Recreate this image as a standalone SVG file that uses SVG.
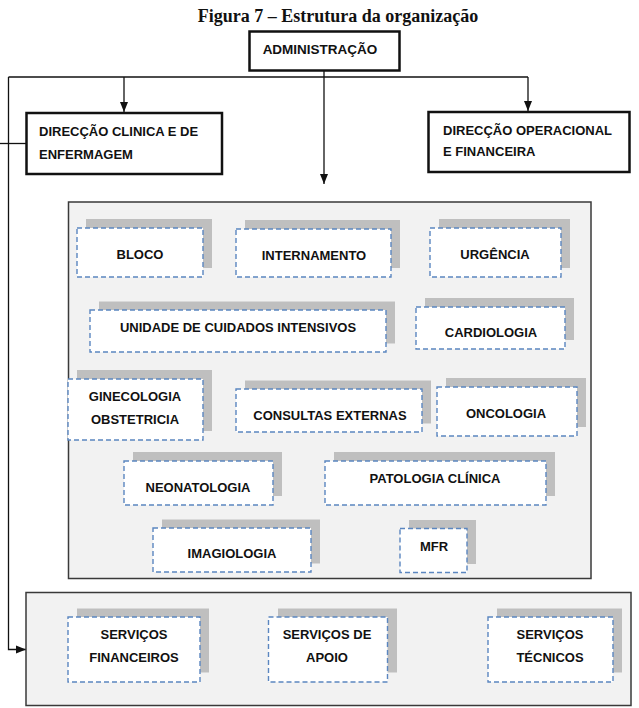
<svg xmlns="http://www.w3.org/2000/svg" width="639" height="708" viewBox="0 0 639 708">
<style>
.t{font-family:"Liberation Sans",Arial,sans-serif;font-weight:bold;font-size:13px;fill:#111;}
.c{text-anchor:middle;}
.box{fill:#fff;stroke:#111;stroke-width:2.5;}
.cont{fill:#f2f2f2;stroke:#3a3a3a;stroke-width:1.5;}
.sh{fill:#bfbfbf;}
.dn{fill:#fff;stroke:#5b86c0;stroke-width:1.4;stroke-dasharray:5,3;}
.ln{fill:none;stroke:#111;stroke-width:1.3;}
</style>
<defs>
<marker id="ah" markerUnits="userSpaceOnUse" markerWidth="10" markerHeight="10" viewBox="0 0 10 10" refX="10" refY="5" orient="auto">
<path d="M0,1 L10,5 L0,9 Z" fill="#111"/>
</marker>
</defs>
<rect width="639" height="708" fill="#fff"/>
<text x="338" y="22" style="font-family:'Liberation Serif','Times New Roman',serif;font-weight:bold;font-size:18px;text-anchor:middle;fill:#111">Figura 7 – Estrutura da organização</text>

<g id="connectors">
<path class="ln" d="M8.5,77 H528"/>
<path class="ln" d="M324,71 V184" marker-end="url(#ah)"/>
<path class="ln" d="M124,77 V112" marker-end="url(#ah)"/>
<path class="ln" d="M528,77 V111" marker-end="url(#ah)"/>
<path class="ln" d="M8.5,77 V649.5 H26" marker-end="url(#ah)"/>
<path class="ln" d="M0,143.5 H26"/>
</g>

<g id="administracao">
<rect class="box" x="249.5" y="31.5" width="150" height="39"/>
<text class="t c" x="320" y="54" style="font-size:13.5px">ADMINISTRAÇÃO</text>
</g>
<g id="direccao-clinica">
<rect class="box" x="26.5" y="113" width="195.5" height="61"/>
<text class="t" x="39" y="135.5">DIRECÇÃO CLINICA E DE</text>
<text class="t" x="39" y="158.5">ENFERMAGEM</text>
</g>
<g id="direccao-operacional">
<rect class="box" x="428.5" y="112" width="201" height="60"/>
<text class="t" x="443" y="134.5">DIRECÇÃO OPERACIONAL</text>
<text class="t" x="443" y="156">E FINANCEIRA</text>
</g>

<g id="servicos-clinicos">
<rect class="cont" x="68.5" y="202" width="522.5" height="376.5"/>
</g>
<g id="bloco"><rect class="sh" x="86" y="219" width="126" height="49"/><rect class="dn" x="77" y="228" width="126" height="49"/><text class="t c" x="140" y="258.5">BLOCO</text></g>
<g id="internamento"><rect class="sh" x="245" y="220" width="155" height="48"/><rect class="dn" x="236" y="229" width="155" height="48"/><text class="t c" x="314" y="260">INTERNAMENTO</text></g>
<g id="urgencia"><rect class="sh" x="439" y="219" width="131" height="49"/><rect class="dn" x="430" y="228" width="131" height="49"/><text class="t c" x="495" y="258.5">URGÊNCIA</text></g>
<g id="uci"><rect class="sh" x="99" y="301.5" width="296" height="42"/><rect class="dn" x="90" y="310" width="296" height="42"/><text class="t c" x="238" y="331.5">UNIDADE DE CUIDADOS INTENSIVOS</text></g>
<g id="cardiologia"><rect class="sh" x="425" y="298" width="149" height="42"/><rect class="dn" x="416" y="307" width="149" height="42"/><text class="t c" x="491" y="336.5">CARDIOLOGIA</text></g>
<g id="ginecologia"><rect class="sh" x="77" y="370" width="135" height="61"/><rect class="dn" x="68" y="379" width="135" height="61"/><text class="t c" x="135" y="400.5">GINECOLOGIA</text><text class="t c" x="135" y="424">OBSTETRICIA</text></g>
<g id="consultas"><rect class="sh" x="245" y="380.5" width="186" height="43"/><rect class="dn" x="236" y="389" width="186" height="43"/><text class="t c" x="330" y="419.5">CONSULTAS EXTERNAS</text></g>
<g id="oncologia"><rect class="sh" x="446" y="378" width="140" height="49"/><rect class="dn" x="437" y="387" width="140" height="49"/><text class="t c" x="506" y="418">ONCOLOGIA</text></g>
<g id="neonatologia"><rect class="sh" x="133" y="452" width="149" height="44"/><rect class="dn" x="124" y="461" width="149" height="44"/><text class="t c" x="198" y="491.5">NEONATOLOGIA</text></g>
<g id="patologia"><rect class="sh" x="334" y="452" width="221" height="44"/><rect class="dn" x="325" y="461" width="221" height="44"/><text class="t c" x="435" y="483">PATOLOGIA CLÍNICA</text></g>
<g id="imagiologia"><rect class="sh" x="162" y="519.5" width="158" height="44"/><rect class="dn" x="153" y="528" width="158" height="44"/><text class="t c" x="232" y="558">IMAGIOLOGIA</text></g>
<g id="mfr"><rect class="sh" x="409" y="520" width="67" height="44"/><rect class="dn" x="400" y="528.5" width="67" height="44"/><text class="t c" x="434" y="550.5">MFR</text></g>

<g id="servicos-gerais">
<rect class="cont" x="26" y="592.5" width="605" height="113"/>
</g>
<g id="servicos-financeiros"><rect class="sh" x="77" y="608.5" width="132" height="64"/><rect class="dn" x="68" y="617" width="132" height="65"/><text class="t c" x="134" y="638.5">SERVIÇOS</text><text class="t c" x="134" y="661.5">FINANCEIROS</text></g>
<g id="servicos-apoio"><rect class="sh" x="278" y="608.5" width="119" height="64"/><rect class="dn" x="268.5" y="617" width="119" height="65"/><text class="t c" x="327" y="638.5">SERVIÇOS DE</text><text class="t c" x="327" y="661.5">APOIO</text></g>
<g id="servicos-tecnicos"><rect class="sh" x="497" y="608.5" width="125" height="64"/><rect class="dn" x="488" y="617" width="125" height="65"/><text class="t c" x="550" y="638.5">SERVIÇOS</text><text class="t c" x="550" y="661.5">TÉCNICOS</text></g>
</svg>
